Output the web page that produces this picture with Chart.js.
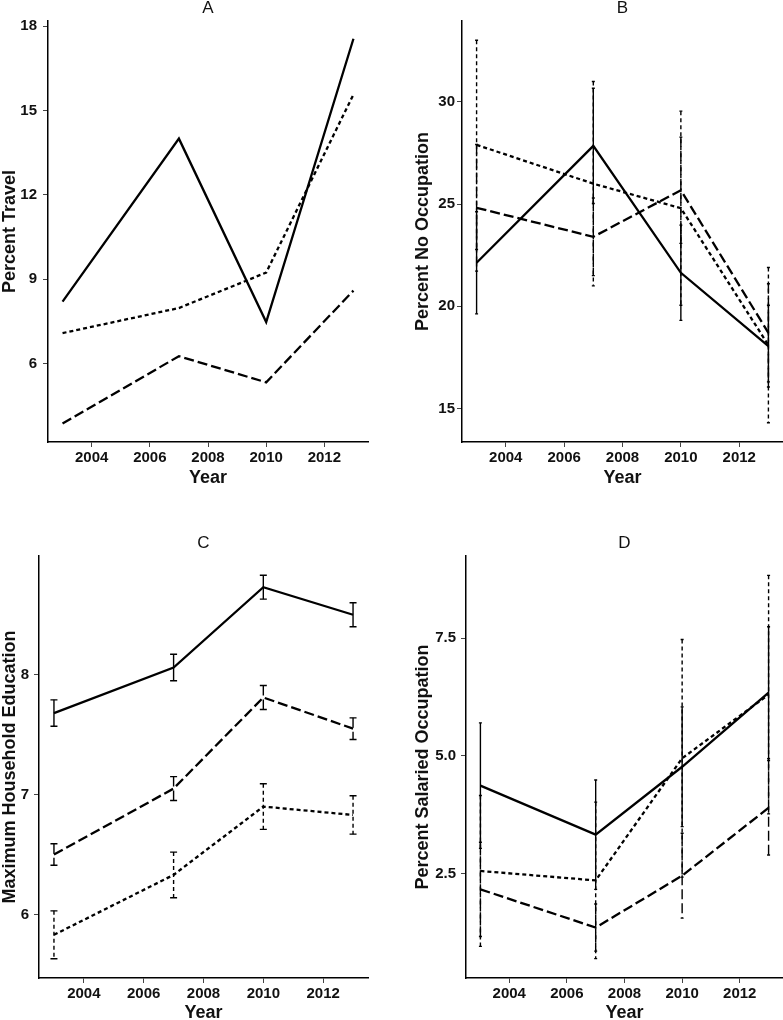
<!DOCTYPE html>
<html>
<head>
<meta charset="utf-8">
<script src="https://cdn.jsdelivr.net/npm/chart.js@4.4.1/dist/chart.umd.min.js"></script>
<style>
  html, body { margin: 0; padding: 0; background: #fff; overflow: hidden; }
  .panel { position: absolute; }
</style>
</head>
<body>
<div class="panel" style="left:0;top:0"><canvas id="chartA" width="391" height="500"></canvas></div>
<div class="panel" style="left:391px;top:0"><canvas id="chartB" width="392" height="500"></canvas></div>
<div class="panel" style="left:0;top:500px"><canvas id="chartC" width="391" height="540"></canvas></div>
<div class="panel" style="left:391px;top:500px"><canvas id="chartD" width="392" height="540"></canvas></div>
<script>
// survey years and axis ticks
const years = [2003, 2007, 2010, 2013];
const xTicks = [2004, 2006, 2008, 2010, 2012];

// A - percent travel
const travelSolid = [8.21, 14.0, 7.48, 17.55];
const travelDashed = [3.88, 6.27, 5.34, 8.6];
const travelDotted = [7.09, 7.98, 9.24, 15.57];
const travelTicks = [6, 9, 12, 15, 18];

// B - percent no occupation (value +/- error)
const noOccSolid = [22.13, 27.85, 21.64, 18.05];
const noOccSolidErr = [2.5, 2.82, 2.33, 2.0];
const noOccDashed = [24.82, 23.4, 25.68, 18.7];
const noOccDashedErr = [3.1, 1.9, 2.6, 2.4];
const noOccDotted = [27.9, 26.0, 24.8, 18.1];
const noOccDottedErr = [5.12, 5.0, 4.75, 3.8];
const noOccTicks = [15, 20, 25, 30];

// C - maximum household education
const eduSolid = [7.68, 8.06, 8.73, 8.5];
const eduSolidErr = [0.11, 0.11, 0.1, 0.1];
const eduDashed = [6.5, 7.05, 7.81, 7.55];
const eduDashedErr = [0.09, 0.1, 0.1, 0.09];
const eduDotted = [5.83, 6.33, 6.9, 6.83];
const eduDottedErr = [0.2, 0.19, 0.19, 0.16];
const eduTicks = [6, 7, 8];

// D - percent salaried occupation
const salSolid = [4.37, 3.33, 4.77, 6.34];
const salSolidErr = [1.33, 1.16, 1.27, 1.4];
const salDashed = [2.17, 1.36, 2.46, 3.9];
const salDashedErr = [1.0, 0.5, 0.9, 1.0];
const salDotted = [2.56, 2.36, 4.95, 6.3];
const salDottedErr = [1.6, 1.66, 2.52, 2.53];
const salTicks = [2.5, 5.0, 7.5];

const FONT = "'Liberation Sans', Arial, Helvetica, sans-serif";
const INK = '#111';
const DASHED = [10, 4];
const DOTTED = [4, 3];

const errorBarPlugin = {
  id: 'errorBars',
  afterDatasetsDraw(chart, args, opts) {
    const { ctx, scales: { x, y } } = chart;
    const cap = opts.cap || 0;
    chart.data.datasets.forEach(ds => {
      if (!ds.err) return;
      ctx.save();
      ctx.strokeStyle = ds.borderColor;
      ctx.lineWidth = 1.4;
      ds.data.forEach((p, i) => {
        const px = x.getPixelForValue(p.x);
        const top = y.getPixelForValue(p.y + ds.err[i]);
        const bot = y.getPixelForValue(p.y - ds.err[i]);
        ctx.setLineDash(ds.borderDash || []);
        ctx.beginPath();
        ctx.moveTo(px, top);
        ctx.lineTo(px, bot);
        ctx.stroke();
        if (cap) {
          ctx.setLineDash([]);
          ctx.beginPath();
          ctx.moveTo(px - cap, top); ctx.lineTo(px + cap, top);
          ctx.moveTo(px - cap, bot); ctx.lineTo(px + cap, bot);
          ctx.stroke();
        }
      });
      ctx.restore();
    });
  }
};

function series(values, dash, err) {
  return {
    data: years.map((x, i) => ({ x, y: values[i] })),
    err: err,
    borderColor: '#000',
    borderWidth: 2.3,
    borderDash: dash,
    pointRadius: 0,
    fill: false,
    tension: 0
  };
}

function makeChart(id, cfg) {
  new Chart(document.getElementById(id), {
    type: 'line',
    plugins: [errorBarPlugin],
    data: { datasets: cfg.datasets },
    options: {
      responsive: false,
      animation: false,
      devicePixelRatio: 1,
      layout: { padding: { left: 0, top: 0, right: cfg.padRight, bottom: 0 } },
      plugins: {
        legend: { display: false },
        tooltip: { enabled: false },
        errorBars: { cap: cfg.cap },
        title: {
          display: true,
          text: cfg.title,
          fullSize: false,
          color: INK,
          font: { family: FONT, size: 17, weight: 'normal', lineHeight: 1 },
          padding: { top: cfg.titleTop, bottom: cfg.titleBottom }
        }
      },
      scales: {
        x: {
          type: 'linear',
          min: 2002.5,
          max: 2013.5,
          afterBuildTicks: s => { s.ticks = xTicks.map(v => ({ value: v })); },
          afterFit: s => { s.height = cfg.xHeight; },
          ticks: {
            color: INK,
            padding: 2,
            maxRotation: 0,
            font: { family: FONT, size: 15, weight: 'bold' },
            callback: v => String(v)
          },
          grid: { display: true, drawOnChartArea: false, drawTicks: true, tickLength: 5, tickColor: '#444', tickWidth: 1 },
          border: { display: true, color: '#000', width: 1.5 },
          title: {
            display: true,
            text: 'Year',
            color: INK,
            font: { family: FONT, size: 18, weight: 'bold', lineHeight: 1 },
            padding: { top: 0, bottom: cfg.xTitlePad }
          }
        },
        y: {
          type: 'linear',
          min: cfg.yMin,
          max: cfg.yMax,
          afterBuildTicks: s => { s.ticks = cfg.yTicks.map(v => ({ value: v })); },
          afterFit: s => { s.width = cfg.yWidth; },
          ticks: {
            color: INK,
            padding: cfg.yTickPad,
            font: { family: FONT, size: 15, weight: 'bold' },
            callback: v => cfg.yFmt ? v.toFixed(1) : String(v)
          },
          grid: { display: true, drawOnChartArea: false, drawTicks: true, tickLength: 5, tickColor: '#444', tickWidth: 1 },
          border: { display: true, color: '#000', width: 1.5 },
          title: {
            display: true,
            text: cfg.yTitle,
            color: INK,
            font: { family: FONT, size: 18, weight: 'bold', lineHeight: 0.85 },
            padding: { top: cfg.yTitlePad, bottom: 0 }
          }
        }
      }
    }
  });
}

makeChart('chartA', {
  title: 'A', yTitle: 'Percent Travel',
  yMin: 3.22, yMax: 18.18, yTicks: travelTicks,
  yWidth: 48, xHeight: 58, padRight: 23,
  titleTop: 0, titleBottom: 4, xTitlePad: 13, yTitlePad: 2, yTickPad: 6, cap: 0,
  datasets: [
    series(travelDotted, DOTTED),
    series(travelDashed, DASHED),
    series(travelSolid, [])
  ]
});

makeChart('chartB', {
  title: 'B', yTitle: 'Percent No Occupation',
  yMin: 13.36, yMax: 33.96, yTicks: noOccTicks,
  yWidth: 71, xHeight: 58, padRight: 0,
  titleTop: 0, titleBottom: 4, xTitlePad: 13, yTitlePad: 24, yTickPad: 2, cap: 1.5,
  datasets: [
    series(noOccDotted, DOTTED, noOccDottedErr),
    series(noOccDashed, DASHED, noOccDashedErr),
    series(noOccSolid, [], noOccSolidErr)
  ]
});

makeChart('chartC', {
  title: 'C', yTitle: 'Maximum Household Education',
  yMin: 5.47, yMax: 8.99, yTicks: eduTicks,
  yWidth: 39, xHeight: 62, padRight: 23,
  titleTop: 34.5, titleBottom: 4.5, xTitlePad: 18, yTitlePad: 2, yTickPad: 5, cap: 3.5,
  datasets: [
    series(eduDotted, DOTTED, eduDottedErr),
    series(eduDashed, DASHED, eduDashedErr),
    series(eduSolid, [], eduSolidErr)
  ]
});

makeChart('chartD', {
  title: 'D', yTitle: 'Percent Salaried Occupation',
  yMin: 0.29, yMax: 9.24, yTicks: salTicks, yFmt: true,
  yWidth: 75, xHeight: 62, padRight: 0,
  titleTop: 34.5, titleBottom: 4.5, xTitlePad: 18, yTitlePad: 24, yTickPad: 5, cap: 1.5,
  datasets: [
    series(salDotted, DOTTED, salDottedErr),
    series(salDashed, DASHED, salDashedErr),
    series(salSolid, [], salSolidErr)
  ]
});
</script>
</body>
</html>
